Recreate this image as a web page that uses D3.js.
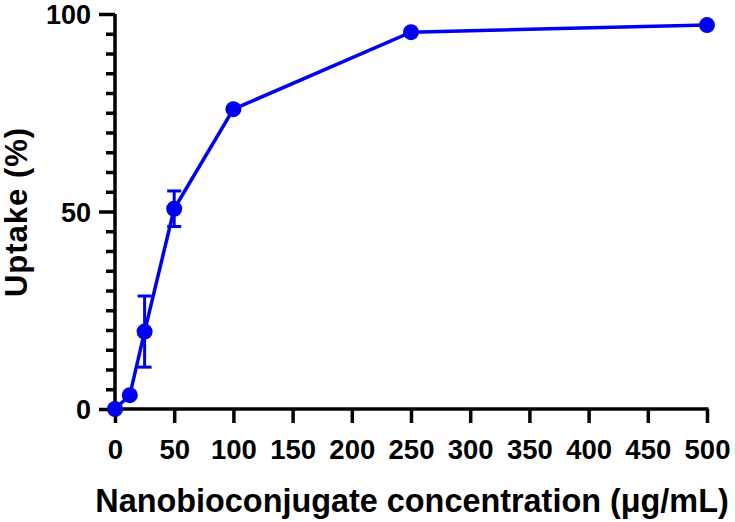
<!DOCTYPE html>
<html><head><meta charset="utf-8">
<script src="https://cdn.jsdelivr.net/npm/d3@7"></script>
<style>body{margin:0;background:#fff}svg{display:block}text{font-family:"Liberation Sans",Arial,sans-serif;font-weight:bold}</style>
</head><body>
<svg id="c" width="735" height="522"></svg>
<script>
const concentration = [0, 12.5, 25, 50, 100, 250, 500];
const uptake = [0, 3.5, 19.6, 50.7, 75.9, 95.4, 97.2];
const uptakeErr = [0, 0, 9, 4.5, 0, 0, 0];
const xTicks = [0, 50, 100, 150, 200, 250, 300, 350, 400, 450, 500];
const yMajor = [0, 50, 100];
const xTitle = "Nanobioconjugate concentration (\u03bcg/mL)";
const yTitle = "Uptake (%)";

const svg = d3.select("#c");
const x = d3.scaleLinear().domain([0, 500]).range([115, 707]);
const y = d3.scaleLinear().domain([0, 100]).range([409, 14]);
const color = "#0000f0";

// y axis
const ya = svg.append("g").attr("transform", `translate(${x(0)},0)`);
ya.call(d3.axisLeft(y).tickValues(d3.range(0, 101, 5)).tickSize(9).tickFormat(""));
ya.selectAll(".tick").filter(d => yMajor.includes(d)).select("line").attr("x2", -16);
ya.selectAll(".tick").filter(d => yMajor.includes(d)).append("text")
  .attr("x", -24).attr("dy", "0.36em").attr("fill", "#000").attr("text-anchor", "end")
  .style("font-size", "27px").text(d => d);
ya.select(".domain").attr("stroke-width", 3.5).attr("d", `M0,${y(100)}V${y(0)}`);
ya.selectAll(".tick line").attr("stroke-width", 3.5);

// x axis
const xa = svg.append("g").attr("transform", `translate(0,${y(0)})`);
xa.call(d3.axisBottom(x).tickValues(xTicks).tickSize(14).tickFormat(""));
xa.selectAll(".tick").append("text").attr("y", 50).attr("fill", "#000")
  .attr("text-anchor", "middle").style("font-size", "27.5px").text(d => d);
xa.select(".domain").attr("stroke-width", 3.5).attr("d", `M${x(0)-1.5},0H${x(500)+1.5}`);
xa.selectAll(".tick line").attr("stroke-width", 3.5);

// titles
svg.append("text").attr("x", 412).attr("y", 512).attr("text-anchor", "middle")
  .style("font-size", "32.4px").attr("fill", "#000").text(xTitle);
svg.append("text").attr("transform", `translate(27,212) rotate(-90)`).attr("text-anchor", "middle")
  .style("font-size", "31px").style("letter-spacing", "1px").attr("fill", "#000").text(yTitle);

const data = concentration.map((c, i) => ({c, u: uptake[i], e: uptakeErr[i]}));

// error bars
const eb = svg.append("g").attr("stroke", color).attr("stroke-width", 3);
data.filter(d => d.e > 0).forEach(d => {
  eb.append("line").attr("x1", x(d.c)).attr("x2", x(d.c)).attr("y1", y(d.u - d.e)).attr("y2", y(d.u + d.e));
  [d.u - d.e, d.u + d.e].forEach(v => eb.append("line").attr("x1", x(d.c) - 7).attr("x2", x(d.c) + 7).attr("y1", y(v)).attr("y2", y(v)));
});

svg.append("path").datum(data).attr("fill", "none").attr("stroke", color).attr("stroke-width", 3.5)
  .attr("d", d3.line().x(d => x(d.c)).y(d => y(d.u)));
svg.append("g").selectAll("circle").data(data).join("circle")
  .attr("cx", d => x(d.c)).attr("cy", d => y(d.u)).attr("r", 8).attr("fill", color);
</script>
</body></html>
